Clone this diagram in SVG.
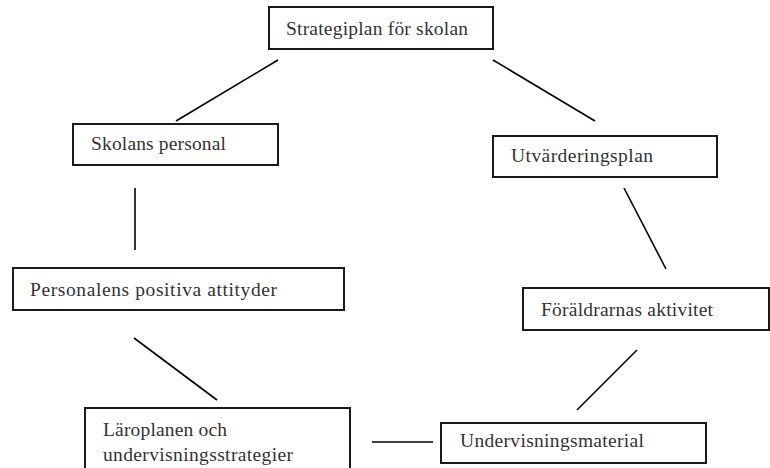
<svg xmlns="http://www.w3.org/2000/svg" width="770" height="468" viewBox="0 0 770 468">
<style>
.box{fill:#fff;stroke:#1a1a1a;stroke-width:2}
.t{font-family:"Liberation Serif","DejaVu Serif",serif;font-size:19.5px;fill:#333}
.c line{stroke:#000;stroke-width:1.6}
</style>
<rect width="770" height="468" fill="#fff"/>
<g class="c" id="connectors">
<line x1="278" y1="60" x2="176" y2="121"/>
<line x1="493" y1="60" x2="595" y2="121"/>
<line x1="135" y1="188" x2="135" y2="250"/>
<line x1="624" y1="188" x2="666" y2="269"/>
<line x1="134" y1="338" x2="217" y2="400"/>
<line x1="637" y1="350" x2="577" y2="410"/>
<line x1="372" y1="442" x2="433" y2="442"/>
</g>
<g id="n1"><rect class="box" x="269" y="7" width="224" height="42"/><text class="t" x="286" y="35" textLength="182">Strategiplan för skolan</text></g>
<g id="n2"><rect class="box" x="73" y="124" width="205" height="41"/><text class="t" x="91" y="150" textLength="135">Skolans personal</text></g>
<g id="n3"><rect class="box" x="493" y="136" width="224" height="41"/><text class="t" x="511" y="162" textLength="142">Utvärderingsplan</text></g>
<g id="n4"><rect class="box" x="13" y="268" width="331" height="42"/><text class="t" x="30" y="296" textLength="247">Personalens positiva attityder</text></g>
<g id="n5"><rect class="box" x="523" y="288" width="246" height="42"/><text class="t" x="541" y="316" textLength="172">Föräldrarnas aktivitet</text></g>
<g id="n6"><rect class="box" x="85" y="408" width="265" height="70"/><text class="t" x="103" y="436" textLength="124">Läroplanen och</text><text class="t" x="103" y="461" textLength="190">undervisningsstrategier</text></g>
<g id="n7"><rect class="box" x="441" y="423" width="265" height="40"/><text class="t" x="460" y="447" textLength="184">Undervisningsmaterial</text></g>
</svg>
